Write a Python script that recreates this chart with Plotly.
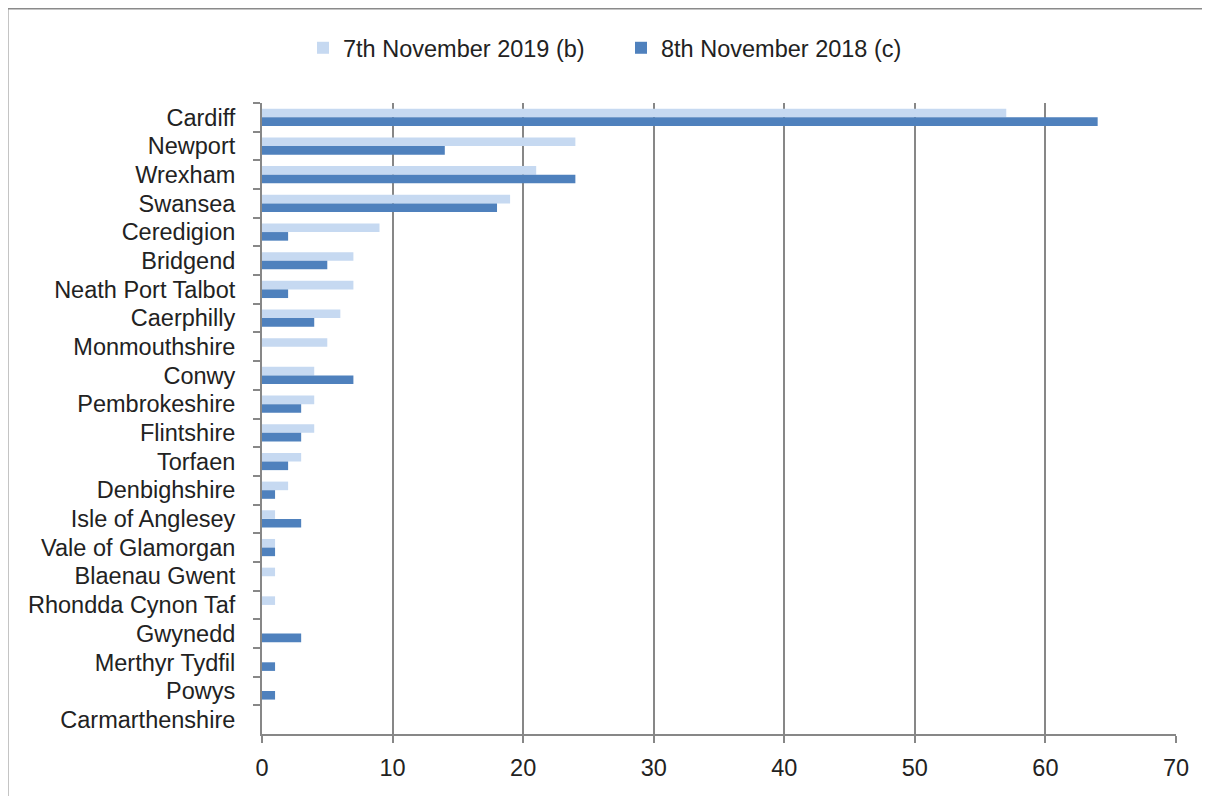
import plotly.graph_objects as go

categories = ["Cardiff", "Newport", "Wrexham", "Swansea", "Ceredigion", "Bridgend",
              "Neath Port Talbot", "Caerphilly", "Monmouthshire", "Conwy", "Pembrokeshire",
              "Flintshire", "Torfaen", "Denbighshire", "Isle of Anglesey", "Vale of Glamorgan",
              "Blaenau Gwent", "Rhondda Cynon Taf", "Gwynedd", "Merthyr Tydfil", "Powys",
              "Carmarthenshire"]
nov_2019 = [57, 24, 21, 19, 9, 7, 7, 6, 5, 4, 4, 4, 3, 2, 1, 1, 1, 1, 0, 0, 0, 0]
nov_2018 = [64, 14, 24, 18, 2, 5, 2, 4, 0, 7, 3, 3, 2, 1, 3, 1, 0, 0, 3, 1, 1, 0]
x_ticks = [0, 10, 20, 30, 40, 50, 60, 70]

FONT = "Liberation Sans, Arial, sans-serif"
GRID = "#878787"
FS = 23.5

fig = go.Figure()
fig.add_trace(go.Bar(y=categories, x=nov_2019, orientation="h", name="7th November 2019 (b)",
                     marker=dict(color="#C6D9F1", line=dict(width=0))))
fig.add_trace(go.Bar(y=categories, x=nov_2018, orientation="h", name="8th November 2018 (c)",
                     marker=dict(color="#4F81BD", line=dict(width=0))))

OFF = 8  # page body offset
W, H = 1210, 796
PL, PR, PT, PB = 262, 1176, 103, 734  # target plot box in screenshot pixels
L = PL - OFF
T = PT - OFF
pw, ph = PR - PL, PB - PT
R = W - L - pw
B = H - T - ph

def px(xp):
    return (xp - PL) / pw

def py(yp):
    return (PB - yp) / ph

fig.update_layout(
    width=W, height=H,
    margin=dict(l=L, r=R, t=T, b=B),
    paper_bgcolor="white", plot_bgcolor="white",
    barmode="group", bargap=0.4, bargroupgap=0.0,
    font=dict(family=FONT, size=FS, color="#222222"),
    showlegend=True,
    legend=dict(orientation="h", x=px(621), y=py(48), xanchor="center", yanchor="middle",
                font=dict(size=FS), traceorder="normal", itemwidth=30,
                entrywidth=273, entrywidthmode="pixels"),
    xaxis=dict(range=[0, 70], tickvals=x_ticks, showgrid=True, gridcolor=GRID, gridwidth=2,
               showline=True, linecolor=GRID, linewidth=2, ticks="outside", ticklen=7,
               tickcolor=GRID, tickwidth=2, zeroline=False, ticklabelstandoff=5,
               tickfont=dict(size=FS)),
    yaxis=dict(autorange="reversed", showline=True, linecolor=GRID, linewidth=2,
               ticks="outside", ticklen=7, tickcolor=GRID, tickwidth=2, tickson="boundaries",
               showgrid=False, ticklabelstandoff=20, tickfont=dict(size=FS)),
    shapes=[
        dict(type="line", xref="paper", yref="paper", x0=px(7), x1=px(1220), y0=py(8), y1=py(8),
             line=dict(color="#8a8a8a", width=3)),
        dict(type="line", xref="paper", yref="paper", x0=px(7), x1=px(7), y0=py(8), y1=py(810),
             line=dict(color="#8a8a8a", width=3)),
    ],
)

fig.write_html("out.html")
